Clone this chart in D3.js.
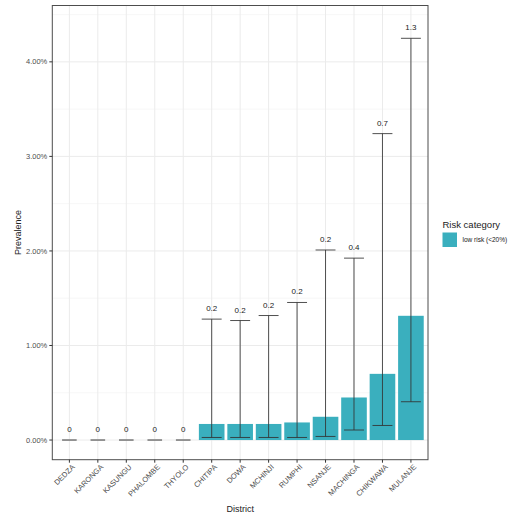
<!DOCTYPE html>
<html><head><meta charset="utf-8">
<script src="https://cdn.jsdelivr.net/npm/d3@7"></script>
<style>body{margin:0;background:#fff;} svg{display:block;font-family:"Liberation Sans",Arial,sans-serif;}</style>
</head><body><div id="chart"></div>
<script>
const districts = ["DEDZA","KARONGA","KASUNGU","PHALOMBE","THYOLO","CHITIPA","DOWA","MCHINJI","RUMPHI","NSANJE","MACHINGA","CHIKWAWA","MULANJE"];
const prevalence = [0,0,0,0,0,0.0017,0.0017,0.0017,0.00186,0.00246,0.0045,0.0070,0.01314];
const lower = [0,0,0,0,0,0.00027,0.00027,0.00027,0.00027,0.00038,0.00106,0.00154,0.00405];
const upper = [0,0,0,0,0,0.01279,0.01264,0.01317,0.01455,0.0201,0.01924,0.03241,0.04249];
const labels = ["0","0","0","0","0","0.2","0.2","0.2","0.2","0.2","0.4","0.7","1.3"];
const yTicks = [0,0.01,0.02,0.03,0.04];
const legendTitle = "Risk category";
const legendLabel = "low risk (<20%)";
const fill = "#3AAFBE";

const W=515,H=518;
const L=52.3,R=428,T=5.5,B=459.7;
const svg=d3.select("#chart").append("svg").attr("width",W).attr("height",H);
const x=d3.scaleBand().domain(districts).range([L,R]).paddingOuter(0.1).paddingInner(0);
const y=d3.scaleLinear().domain([-0.00208,0.04596]).range([B,T]);
const bw=x.bandwidth();
const cx=d=>x(d)+bw/2;

// grid
const g=svg.append("g");
const minor=[0.005,0.015,0.025,0.035,0.045];
g.selectAll(".mn").data(minor).join("line").attr("x1",L).attr("x2",R).attr("y1",d=>y(d)).attr("y2",d=>y(d)).attr("stroke","#f2f2f2").attr("stroke-width",0.6);
g.selectAll(".mj").data(yTicks).join("line").attr("x1",L).attr("x2",R).attr("y1",d=>y(d)).attr("y2",d=>y(d)).attr("stroke","#ebebeb").attr("stroke-width",1);
g.selectAll(".vx").data(districts).join("line").attr("x1",cx).attr("x2",cx).attr("y1",T).attr("y2",B).attr("stroke","#ebebeb").attr("stroke-width",1);

// bars
const idx=d3.range(districts.length);
svg.append("g").selectAll("rect").data(idx.filter(i=>prevalence[i]>0)).join("rect")
  .attr("x",i=>x(districts[i])+bw*0.05).attr("width",bw*0.9)
  .attr("y",i=>y(prevalence[i])).attr("height",i=>y(0)-y(prevalence[i]))
  .attr("fill",fill);

// error bars
const eb=svg.append("g").attr("stroke","#333").attr("stroke-width",1).attr("stroke-opacity",0.85);
const cap=bw*0.35;
idx.filter(i=>upper[i]>0).forEach(i=>{
  const c=cx(districts[i]);
  eb.append("line").attr("x1",c).attr("x2",c).attr("y1",y(lower[i])).attr("y2",y(upper[i]));
  eb.append("line").attr("x1",c-cap).attr("x2",c+cap).attr("y1",y(lower[i])).attr("y2",y(lower[i]));
  eb.append("line").attr("x1",c-cap).attr("x2",c+cap).attr("y1",y(upper[i])).attr("y2",y(upper[i]));
});
svg.append("g").selectAll("line").data(idx.filter(i=>upper[i]===0)).join("line")
  .attr("x1",i=>cx(districts[i])-7.3).attr("x2",i=>cx(districts[i])+7.3)
  .attr("y1",i=>y(0)).attr("y2",i=>y(0)).attr("stroke","#8a8a8a").attr("stroke-width",1.8);

// value labels
svg.append("g").selectAll("text").data(idx).join("text")
  .attr("x",i=>cx(districts[i])).attr("y",i=>y(upper[i])-8)
  .attr("text-anchor","middle").attr("font-size",8).attr("fill","#222").text(i=>labels[i]);

// panel border
svg.append("rect").attr("x",L).attr("y",T).attr("width",R-L).attr("height",B-T).attr("fill","none").attr("stroke","#4d4d4d").attr("stroke-width",1);

// y axis
const ya=svg.append("g");
ya.selectAll("line").data(yTicks).join("line").attr("x1",L-3).attr("x2",L).attr("y1",d=>y(d)).attr("y2",d=>y(d)).attr("stroke","#333");
ya.selectAll("text").data(yTicks).join("text").attr("x",L-5).attr("y",d=>y(d)).attr("dy","0.35em")
  .attr("text-anchor","end").attr("font-size",7.5).attr("fill","#4d4d4d").text(d3.format(".2%"));
// x axis
const xa=svg.append("g");
xa.selectAll("line").data(districts).join("line").attr("x1",cx).attr("x2",cx).attr("y1",B).attr("y2",B+3).attr("stroke","#333");
xa.selectAll("text").data(districts).join("text")
  .attr("transform",d=>`translate(${cx(d)+4},${B+6}) rotate(-45)`)
  .attr("text-anchor","end").attr("dy","0.35em").attr("font-size",7.5).attr("fill","#4d4d4d").text(d=>d);

svg.append("text").attr("x",(L+R)/2).attr("y",512).attr("text-anchor","middle").attr("font-size",9).attr("fill","#222").text("District");
svg.append("text").attr("transform",`translate(21,${(T+B)/2}) rotate(-90)`).attr("text-anchor","middle").attr("font-size",9).attr("fill","#222").text("Prevalence");

// legend
svg.append("text").attr("x",442.5).attr("y",227.5).attr("font-size",9.5).attr("fill","#222").text(legendTitle);
svg.append("rect").attr("x",442.5).attr("y",232.5).attr("width",14.5).attr("height",14.5).attr("fill",fill);
svg.append("text").attr("x",462.5).attr("y",240).attr("dy","0.35em").attr("font-size",6.5).attr("fill","#222").text(legendLabel);
</script></body></html>
